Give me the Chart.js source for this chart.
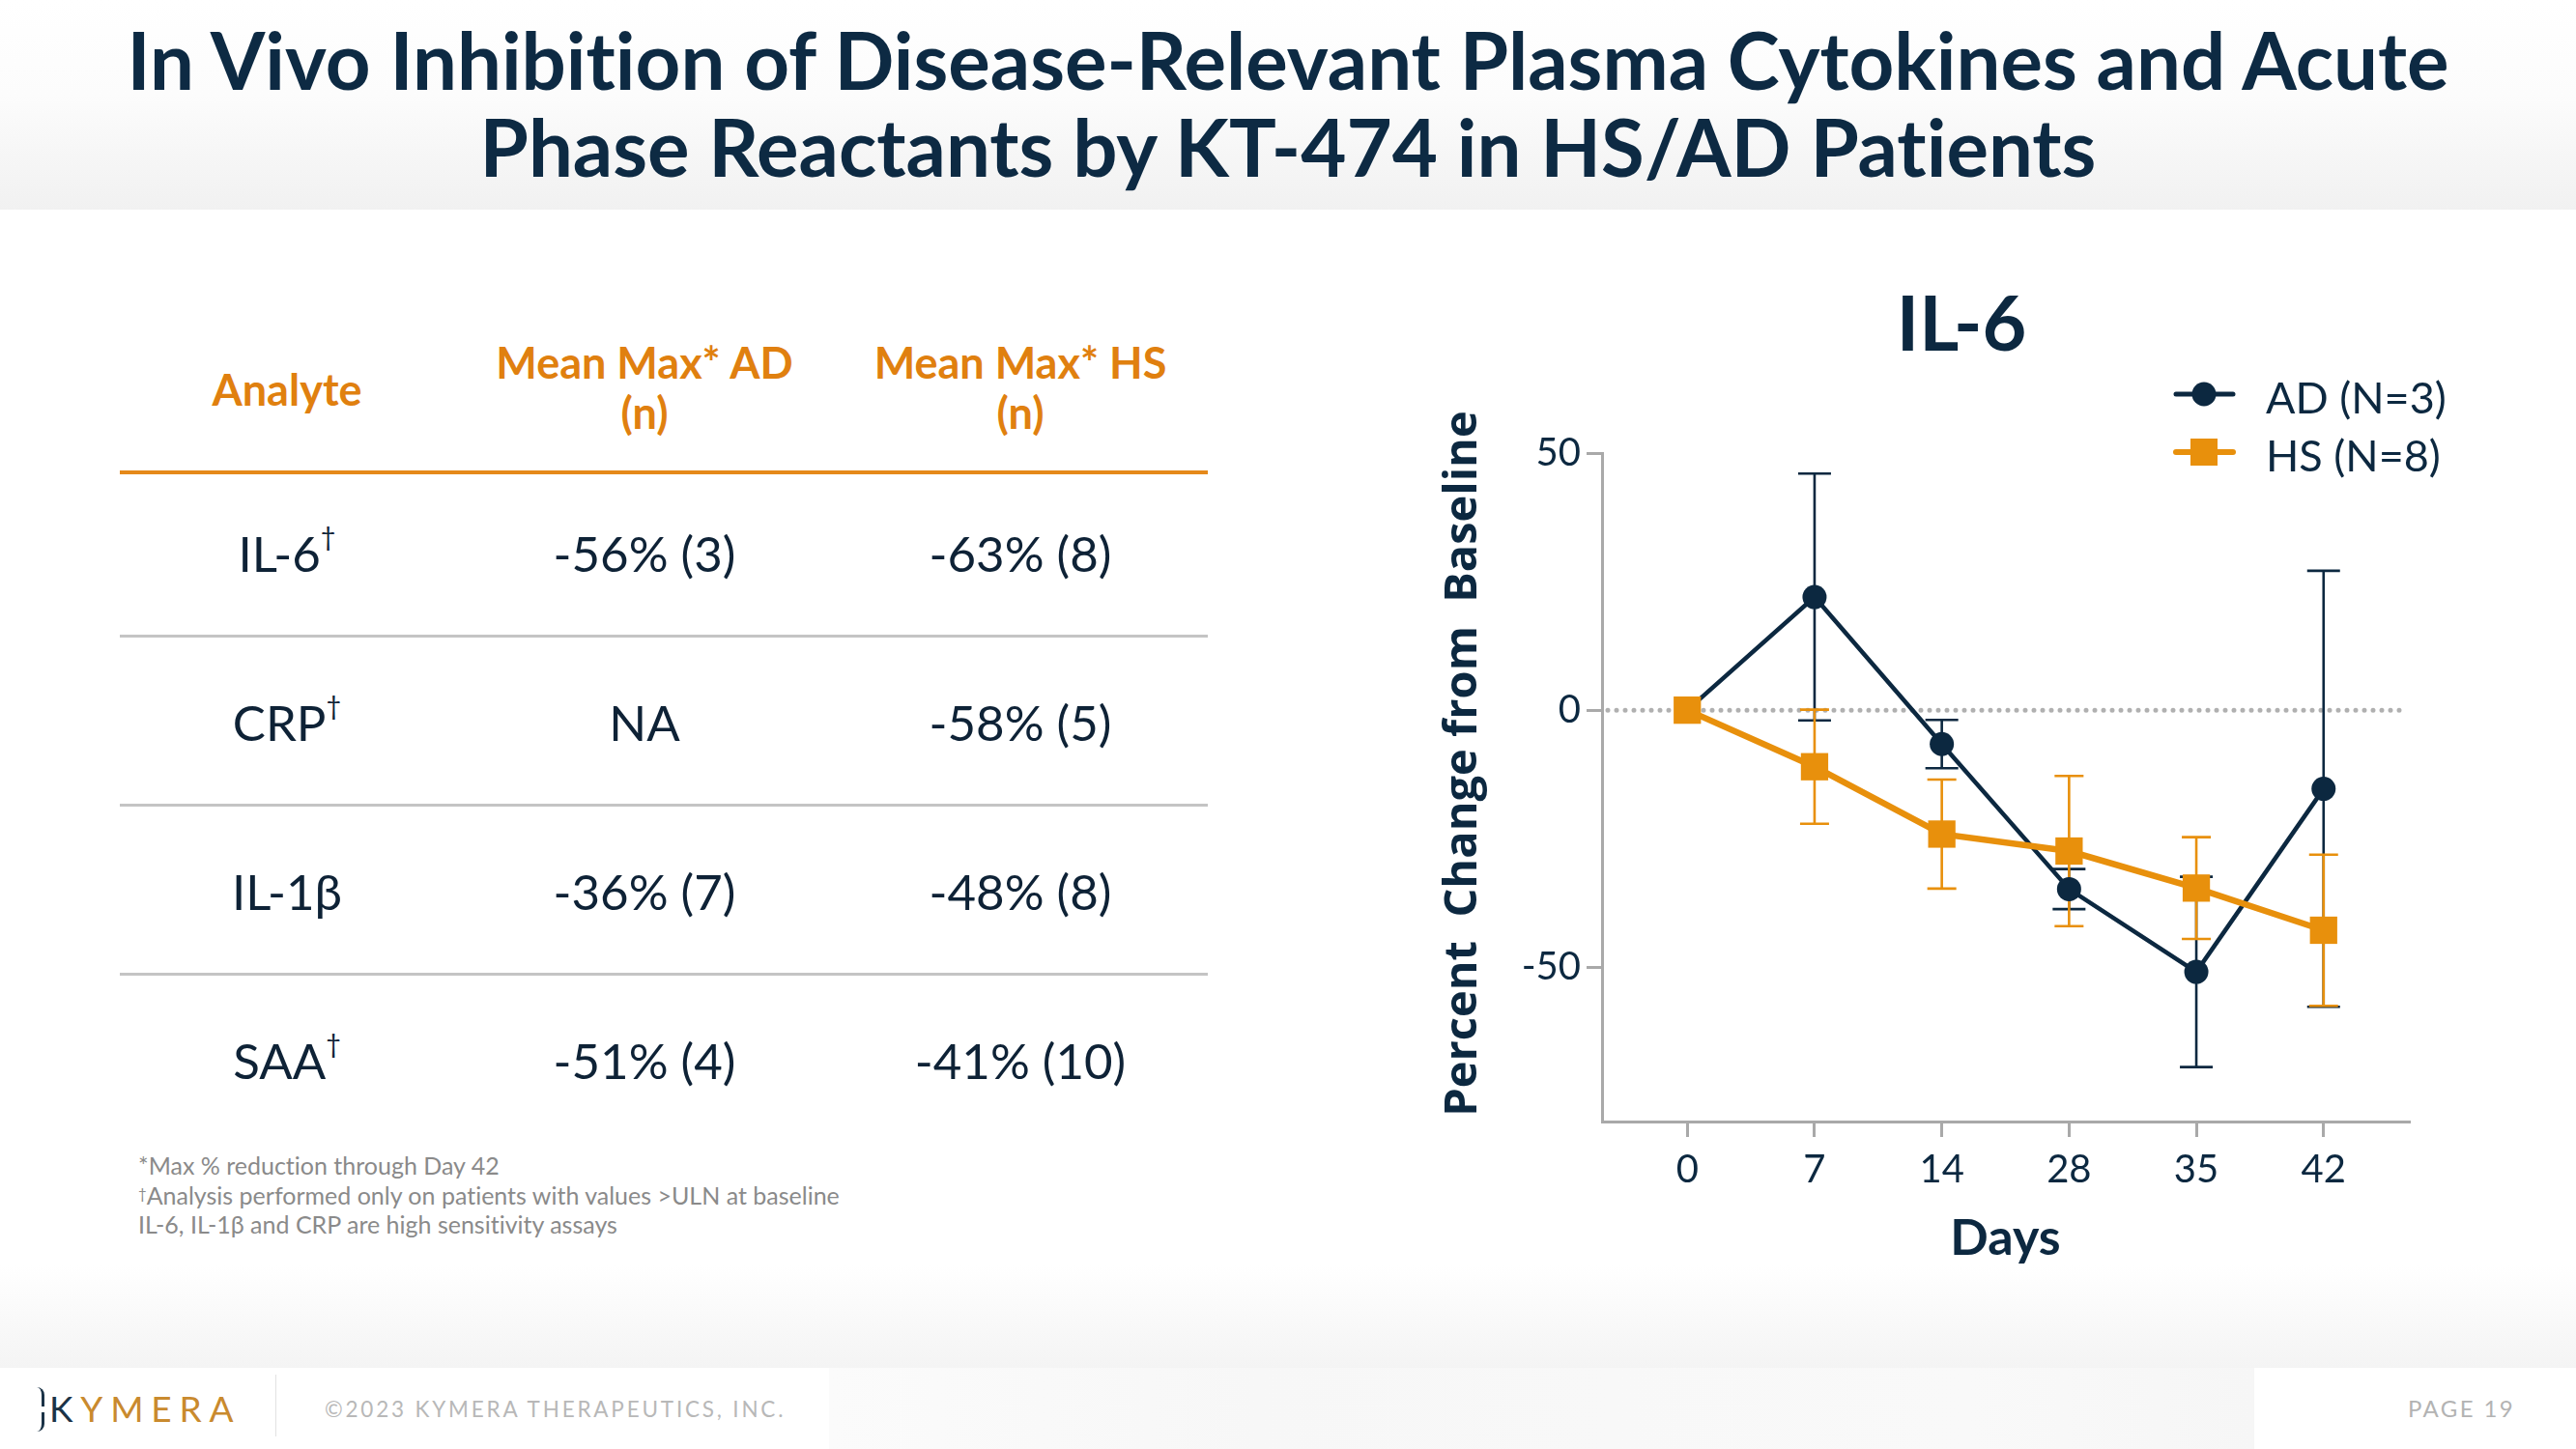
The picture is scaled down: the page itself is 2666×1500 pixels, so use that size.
<!DOCTYPE html>
<html><head><meta charset="utf-8">
<script src="https://cdn.jsdelivr.net/npm/chart.js@4.4.0/dist/chart.umd.min.js"></script>
<style>
html,body{margin:0;padding:0;width:2666px;height:1500px;overflow:hidden;background:#fff;font-family:Lato,"Noto Sans",sans-serif;font-variant-ligatures:none;}
.abs{position:absolute;}
#hdr{left:0;top:0;width:2666px;height:217px;background:linear-gradient(to bottom,#ffffff 0%,#fcfcfc 45%,#f1f1f1 100%);}
#title{left:0;top:17px;width:2666px;text-align:center;font-weight:700;font-size:81.5px;line-height:90px;color:#0d2a43;margin:0;}
#bottomfade{left:0;top:1310px;width:2666px;height:106px;background:linear-gradient(to bottom,#ffffff,#f4f4f4);}
#footer{left:0;top:1416px;width:2666px;height:84px;background:#fff;}
#footmid{left:858px;top:1416px;width:1475px;height:84px;background:linear-gradient(to right,#fbfbfb,#f7f7f7 30%,#f9f9f9 80%,#f6f6f6);}
.cell{width:600px;text-align:center;font-size:51px;line-height:1.2;color:#0e2236;white-space:nowrap;}
.cell sup{font-size:27px;vertical-align:top;position:relative;top:-3px;}
.hd{width:600px;text-align:center;font-size:45px;font-weight:700;line-height:52px;color:#e0800f;white-space:nowrap;}
.rule{left:124px;width:1126px;}
#notes{left:143px;top:1191px;font-size:25px;line-height:30.5px;color:#8a8a8a;white-space:nowrap;}
#notes sup{font-size:15px;vertical-align:top;position:relative;top:-2px;}
#chartbox{left:1420px;top:250px;width:1220px;height:1063px;}
</style></head>
<body>
<div id="hdr" class="abs"></div>
<h1 id="title" class="abs">In Vivo Inhibition of Disease-Relevant Plasma Cytokines and Acute<br>Phase Reactants by KT-474 in HS/AD Patients</h1>
<div id="bottomfade" class="abs"></div>
<div id="footer" class="abs"></div>
<div id="footmid" class="abs"></div>

<div id="table"></div>
<div id="notes" class="abs">*Max % reduction through Day 42<br><sup>†</sup>Analysis performed only on patients with values &gt;ULN at baseline<br>IL-6, IL-1β and CRP are high sensitivity assays</div>

<div class="abs" style="left:38px;top:1436px;width:5px;height:20px;border-right:3px solid #1b3347;border-radius:0 8px 0 0;"></div>
<div class="abs" style="left:38px;top:1462px;width:5px;height:20px;border-right:3px solid #1b3347;border-radius:0 0 8px 0;"></div>
<div class="abs" style="left:51px;top:1436px;font-size:37px;line-height:1.2;letter-spacing:7.8px;color:#c98a2e;white-space:nowrap;"><span style="color:#1b3347">K</span>YMERA</div>
<div class="abs" style="left:285px;top:1423px;width:1px;height:64px;background:#e2e2e2;"></div>
<div class="abs" style="left:336px;top:1445px;font-size:22.5px;line-height:1.2;letter-spacing:2.8px;color:#b8b8b8;white-space:nowrap;">©2023 KYMERA THERAPEUTICS, INC.</div>
<div class="abs" style="left:2492px;top:1444px;font-size:24px;line-height:1.2;letter-spacing:2.4px;color:#b3b3b3;white-space:nowrap;">PAGE 19</div>

<div id="chartbox" class="abs"><canvas id="c" width="1220" height="1063"></canvas></div>

<script>
// ---- table data ----
const tableHeaders = ['Analyte', 'Mean Max* AD<br>(n)', 'Mean Max* HS<br>(n)'];
const tableAnalytes = ['IL-6', 'CRP', 'IL-1β', 'SAA'];
const tableDagger = [true, true, false, true];
const tableAD = ['-56% (3)', 'NA', '-36% (7)', '-51% (4)'];
const tableHS = ['-63% (8)', '-58% (5)', '-48% (8)', '-41% (10)'];

// ---- chart data ----
const chartTitle = 'IL-6';
const dayLabels = ['0', '7', '14', '28', '35', '42'];
const adLabel = 'AD (N=3)';
const adMean = [0, 22.0, -6.6, -34.8, -50.9, -15.3];
const adErr  = [0, 24.0, 4.7, 3.9, 18.5, 42.4];
const hsLabel = 'HS (N=8)';
const hsMean = [0, -11.0, -24.1, -27.4, -34.6, -42.8];
const hsErr  = [0, 11.1, 10.6, 14.6, 9.9, 14.7];
const yTickValues = [-50, 0, 50];

// ---- build table ----
(function(){
  const t = document.getElementById('table');
  const cols = [297, 667, 1056];
  let h = '';
  h += `<div class="abs hd" style="left:${cols[0]-300}px;top:376px;line-height:1.2;">${tableHeaders[0]}</div>`;
  h += `<div class="abs hd" style="left:${cols[1]-300}px;top:349px;">${tableHeaders[1]}</div>`;
  h += `<div class="abs hd" style="left:${cols[2]-300}px;top:349px;">${tableHeaders[2]}</div>`;
  h += `<div class="abs rule" style="top:487px;height:4px;background:#e5891a;"></div>`;
  tableAnalytes.forEach((a, i) => {
    const top = 542 + i * 175;
    h += `<div class="abs cell" style="left:${cols[0]-300}px;top:${top}px;">${a}${tableDagger[i] ? '<sup>†</sup>' : ''}</div>`;
    h += `<div class="abs cell" style="left:${cols[1]-300}px;top:${top}px;">${tableAD[i]}</div>`;
    h += `<div class="abs cell" style="left:${cols[2]-300}px;top:${top}px;">${tableHS[i]}</div>`;
    if (i < 3) h += `<div class="abs rule" style="top:${657 + i*175}px;height:3px;background:#c4c4c4;"></div>`;
  });
  t.innerHTML = h;
})();

const NAVY = '#0c2840';
const ORANGE = '#e8900c';
const AXIS = '#a9a9a9';

const zeroAndErrors = {
  id: 'zeroAndErrors',
  beforeDatasetsDraw(chart) {
    const {ctx, chartArea, scales: {x, y}} = chart;
    ctx.save();
    // dotted zero line
    const y0 = y.getPixelForValue(0);
    ctx.strokeStyle = '#b0b0b0';
    ctx.lineWidth = 5;
    ctx.lineCap = 'round';
    ctx.setLineDash([0, 9]);
    ctx.beginPath();
    ctx.moveTo(chartArea.left + 6, y0);
    ctx.lineTo(chartArea.right - 4, y0);
    ctx.stroke();
    ctx.setLineDash([]);
    ctx.lineCap = 'butt';
    // error bars
    chart.data.datasets.forEach(ds => {
      ctx.strokeStyle = ds.borderColor;
      ctx.lineWidth = 2.6;
      ds.data.forEach((p, j) => {
        const e = ds.errors[j];
        if (!e) return;
        const px = x.getPixelForValue(p.x);
        const yt = y.getPixelForValue(p.y + e);
        const yb = y.getPixelForValue(p.y - e);
        const hw = ds.capHalf;
        ctx.beginPath();
        ctx.moveTo(px, yt); ctx.lineTo(px, yb);
        ctx.moveTo(px - hw, yt); ctx.lineTo(px + hw, yt);
        ctx.moveTo(px - hw, yb); ctx.lineTo(px + hw, yb);
        ctx.stroke();
      });
    });
    ctx.restore();
  },
  afterDraw(chart) {
    const {ctx} = chart;
    ctx.save();
    // chart title
    ctx.fillStyle = NAVY;
    ctx.font = '700 79px Lato';
    ctx.textAlign = 'center';
    ctx.textBaseline = 'alphabetic';
    ctx.fillText(chartTitle, 610, 113);
    // legend
    const order = [0, 1];
    order.forEach((i, k) => {
      const ds = chart.data.datasets[i];
      const cy = 158 + k * 60;
      ctx.strokeStyle = ds.borderColor;
      ctx.lineWidth = k === 0 ? 5 : 6;
      ctx.lineCap = 'round';
      ctx.beginPath(); ctx.moveTo(832, cy); ctx.lineTo(891, cy); ctx.stroke();
      ctx.fillStyle = ds.backgroundColor;
      if (ds.pointStyle === 'circle') {
        ctx.beginPath(); ctx.arc(861, cy, 12.5, 0, Math.PI * 2); ctx.fill();
      } else {
        ctx.fillRect(861 - 14, cy - 14, 28, 28);
      }
      ctx.fillStyle = NAVY;
      ctx.font = '400 45px Lato';
      ctx.textAlign = 'left';
      ctx.fillText(ds.label, 925, cy + 20);
    });
    ctx.restore();
  }
};

new Chart(document.getElementById('c'), {
  type: 'line',
  data: {
    datasets: [
      {
        label: adLabel,
        data: adMean.map((v, i) => ({x: i, y: v})),
        errors: adErr,
        capHalf: 17,
        borderColor: NAVY,
        backgroundColor: NAVY,
        borderWidth: 4.5,
        pointStyle: 'circle',
        pointRadius: 12.5,
        pointBorderWidth: 0,
        tension: 0,
        order: 2
      },
      {
        label: hsLabel,
        data: hsMean.map((v, i) => ({x: i, y: v})),
        errors: hsErr,
        capHalf: 15,
        borderColor: ORANGE,
        backgroundColor: ORANGE,
        borderWidth: 6.5,
        pointStyle: 'rect',
        pointRadius: 20,
        pointBorderWidth: 0,
        tension: 0,
        order: 1
      }
    ]
  },
  options: {
    responsive: false,
    animation: false,
    devicePixelRatio: 1,
    layout: {padding: {left: 0, right: 147, top: 219, bottom: 0}},
    plugins: {legend: {display: false}, tooltip: {enabled: false}, title: {display: false}},
    scales: {
      x: {
        type: 'linear',
        min: -0.67,
        max: 5.67,
        afterBuildTicks: s => { s.ticks = dayLabels.map((d, i) => ({value: i})); },
        afterFit: s => { s.height = 152; },
        ticks: {
          callback: v => dayLabels[v],
          color: NAVY,
          font: {family: 'Lato', size: 40},
          padding: 10,
          maxRotation: 0,
          autoSkip: false
        },
        grid: {drawOnChartArea: false, drawTicks: true, tickLength: 16, color: AXIS, lineWidth: 3},
        border: {display: true, color: AXIS, width: 3},
        title: {display: true, text: 'Days', color: NAVY, font: {family: 'Lato', size: 52, weight: '700'}, padding: {top: 0, bottom: 0}}
      },
      y: {
        type: 'linear',
        min: -80,
        max: 50,
        afterBuildTicks: s => { s.ticks = yTickValues.map(v => ({value: v})); },
        afterFit: s => { s.width = 238; },
        ticks: {
          color: NAVY,
          font: {family: 'Lato', size: 40},
          padding: 6
        },
        grid: {drawOnChartArea: false, drawTicks: true, tickLength: 16, color: AXIS, lineWidth: 3},
        border: {display: true, color: AXIS, width: 3},
        title: {display: true, text: '    Percent  Change from  Baseline', color: NAVY, font: {family: 'Open Sans', size: 47, weight: '700'}, padding: {top: 66, bottom: 0}}
      }
    }
  },
  plugins: [zeroAndErrors]
});
</script>
</body></html>
